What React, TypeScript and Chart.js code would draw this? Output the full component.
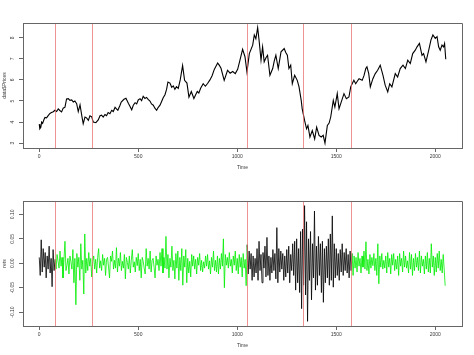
import React, { useEffect, useRef } from "react";
import { Chart, registerables } from "chart.js";

Chart.register(...registerables);

// ---- data ----
const priceTime = [
  0, 3, 8, 12, 17, 24, 29, 37, 46, 54, 62, 71, 79, 88, 96, 104, 113, 121, 130, 138,
  147, 155, 164, 172, 180, 189, 197, 206, 214, 222, 231, 239, 248, 256, 265, 273, 286, 298, 307, 315,
  323, 332, 340, 348, 357, 366, 374, 383, 391, 397, 408, 414, 428, 438, 450, 458, 467, 475, 484, 492, 500, 509, 517, 525, 534, 542, 550, 559, 567, 576, 584, 593,
  601, 610, 618, 626, 635, 643, 650, 660, 669, 677, 685, 693, 702, 712, 724, 734, 746, 756, 768, 781, 790, 798, 806, 815, 828, 839, 850, 862,
  873, 884, 901, 909, 918, 934, 951, 964, 977, 990, 1002, 1014, 1027, 1039, 1049, 1061, 1078, 1086, 1094, 1103, 1111, 1120, 1128, 1136, 1145, 1153,
  1165, 1179, 1187, 1195, 1207, 1221, 1237, 1245, 1253, 1261, 1270, 1278, 1290, 1303, 1312, 1323, 1328, 1340, 1350, 1357, 1367, 1379, 1391,
  1401, 1413, 1424, 1434, 1443, 1455, 1464, 1472, 1485, 1493, 1505, 1514, 1525, 1539, 1551, 1564, 1573, 1589, 1598, 1607, 1615, 1631, 1640,
  1649, 1655, 1664, 1672, 1685, 1697, 1709, 1722, 1736, 1747, 1760, 1770, 1781, 1798, 1810, 1823, 1837, 1849, 1861, 1874,
  1886, 1899, 1908, 1920, 1933, 1941, 1953, 1967, 1978, 1988, 2000, 2009, 2017, 2025, 2034, 2042, 2047, 2053,
];
const priceValue = [
  3.90, 3.68, 3.75, 4.00, 3.94, 4.12, 4.22, 4.20, 4.32, 4.41, 4.45, 4.49, 4.56, 4.50, 4.63, 4.55, 4.48, 4.66, 4.71, 5.10,
  5.11, 5.03, 5.05, 4.95, 5.00, 4.87, 4.50, 4.82, 4.35, 3.92, 4.24, 4.20, 4.08, 4.30, 4.25, 4.00, 3.97, 4.10, 4.30, 4.33,
  4.24, 4.36, 4.30, 4.45, 4.40, 4.56, 4.50, 4.70, 4.62, 4.56, 4.80, 4.95, 5.08, 5.13, 4.89, 4.75, 4.58, 4.80, 4.92, 4.86, 5.05, 5.11, 5.02, 5.22, 5.12, 5.17, 5.08, 5.00, 4.86, 4.80, 4.66, 4.56,
  4.70, 4.80, 4.98, 5.15, 5.30, 5.55, 5.90, 5.85, 5.65, 5.72, 5.55, 5.68, 5.60, 6.00, 6.68, 5.98, 5.85, 5.18, 5.45, 5.12, 5.30, 5.45, 5.38, 5.60, 5.82, 5.70, 5.83, 6.00,
  6.20, 6.50, 6.80, 6.70, 6.55, 5.98, 6.46, 6.32, 6.40, 6.30, 6.50, 6.95, 7.45, 7.10, 6.38, 7.25, 7.65, 8.13, 7.95, 8.48, 7.81, 6.94, 7.57, 6.86, 7.05, 7.17,
  6.22, 6.54, 6.90, 7.17, 6.54, 7.33, 7.49, 7.30, 7.17, 6.54, 6.70, 5.82, 6.22, 5.98, 5.67, 5.03, 4.63, 4.08, 3.68, 3.84, 3.29, 3.60, 3.20,
  3.76, 3.37, 3.29, 3.37, 3.00, 3.84, 3.95, 4.24, 5.03, 4.71, 5.35, 4.63, 4.95, 5.35, 5.11, 5.19, 5.67, 5.98, 5.82, 5.95, 6.06, 5.98, 6.20,
  6.54, 6.62, 6.30, 5.67, 6.06, 6.30, 6.46, 6.70, 6.22, 5.75, 5.43, 5.82, 5.67, 6.30, 6.14, 6.54, 6.70, 6.54, 6.94, 6.78,
  7.25, 7.41, 7.57, 7.73, 7.17, 7.25, 6.86, 7.41, 7.89, 8.13, 7.97, 8.05, 7.57, 7.41, 7.65, 7.57, 7.73, 6.98,
];

const returnStep = 5; // one value every 5 time units, starting at 0
const returnValue = [
  0.012, -0.025, 0.048, -0.018, 0.030, -0.008, 0.022, -0.030, 0.015, -0.012,
  0.035, -0.020, 0.010, -0.048, 0.028, -0.015, 0.008, -0.012, 0.018, 0.004,
  -0.010, 0.025, -0.006, 0.012, -0.030, 0.008, 0.045, -0.015, -0.004, 0.010,
  -0.022, 0.015, 0.003, -0.012, 0.028, -0.040, 0.010, -0.085, 0.020, -0.008,
  0.012, -0.035, 0.040, -0.012, 0.006, -0.063, 0.060, -0.020, 0.010, -0.015,
  0.022, -0.006, 0.010, -0.028, 0.004, 0.015, -0.012, 0.008, -0.020, 0.012,
  0.030, -0.010, 0.005, -0.015, 0.018, -0.004, 0.010, -0.025, 0.008, 0.012,
  -0.008, -0.030, 0.015, 0.004, 0.025, -0.012, 0.006, -0.010, 0.032, -0.018,
  0.010, -0.006, 0.022, -0.015, 0.004, -0.010, 0.018, -0.032, 0.012, 0.002,
  -0.012, 0.015, -0.020, 0.006, 0.028, -0.008, 0.003, -0.018, 0.012, -0.005,
  0.020, -0.015, 0.008, -0.030, 0.012, 0.004, -0.010, -0.022, 0.030, -0.006,
  0.010, -0.012, 0.025, -0.018, 0.006, 0.010, -0.008, -0.030, 0.015, -0.004,
  0.008, -0.015, 0.022, -0.006, 0.030, -0.020, 0.012, -0.010, 0.055, -0.012,
  0.018, -0.030, 0.010, -0.008, 0.035, -0.015, 0.006, -0.032, 0.020, -0.010,
  0.025, -0.035, 0.012, -0.015, 0.030, -0.045, 0.015, -0.008, 0.028, -0.040,
  0.010, -0.020, 0.004, -0.028, 0.018, -0.006, 0.015, -0.012, 0.008, -0.022,
  0.012, -0.004, 0.020, -0.015, 0.006, -0.018, 0.003, -0.010, 0.015, -0.006,
  0.018, -0.012, 0.005, -0.022, 0.012, -0.008, 0.025, -0.015, 0.006, -0.018,
  0.015, -0.022, 0.010, -0.012, 0.020, -0.006, 0.050, -0.050, 0.018, -0.004,
  0.012, -0.010, 0.022, -0.006, 0.008, -0.020, 0.015, -0.004, 0.025, -0.015,
  0.010, -0.022, 0.018, -0.008, 0.012, -0.028, 0.020, -0.010, 0.008, -0.046,
  0.038, -0.022, 0.025, -0.012, 0.020, -0.035, 0.015, -0.028, 0.010, -0.020,
  0.030, -0.035, 0.045, -0.015, 0.018, -0.040, 0.022, -0.010, 0.035, -0.028,
  0.053, -0.025, 0.015, -0.035, 0.012, -0.020, 0.028, -0.015, 0.020, -0.032,
  0.073, -0.040, 0.030, -0.018, 0.025, -0.012, 0.020, -0.035, 0.015, -0.028,
  0.028, -0.020, 0.035, -0.040, 0.018, -0.015, 0.040, -0.025, 0.045, -0.055,
  0.050, -0.040, 0.030, -0.060, 0.065, -0.093, 0.070, -0.045, 0.118, -0.065,
  0.085, -0.119, 0.050, -0.035, 0.065, -0.075, 0.040, -0.030, 0.107, -0.055,
  0.035, -0.045, 0.055, -0.025, 0.040, -0.060, 0.045, -0.080, 0.030, -0.040,
  0.035, -0.030, 0.050, -0.045, 0.060, -0.035, 0.097, -0.049, 0.040, -0.030,
  0.030, -0.025, 0.020, -0.035, 0.028, -0.018, 0.040, -0.025, 0.022, -0.015,
  0.030, -0.020, 0.018, -0.030, 0.025, -0.015, 0.020, -0.025, 0.015, -0.010,
  0.012, -0.018, 0.022, -0.006, 0.010, -0.020, 0.015, -0.008, 0.025, -0.012,
  0.044, -0.015, 0.008, -0.022, 0.018, -0.010, 0.012, -0.005, 0.020, -0.015,
  0.010, -0.025, 0.040, -0.042, 0.015, -0.008, 0.020, -0.012, 0.006, -0.010,
  0.015, -0.020, 0.022, -0.008, 0.010, -0.022, 0.018, -0.004, 0.020, -0.015,
  0.008, -0.012, 0.015, -0.025, 0.020, -0.006, 0.010, -0.018, 0.025, -0.008,
  0.015, -0.010, 0.005, -0.020, 0.022, -0.012, 0.018, -0.025, 0.010, -0.015,
  0.020, -0.008, 0.012, -0.015, 0.025, -0.020, 0.015, -0.006, 0.008, -0.022,
  0.015, -0.012, 0.022, -0.018, 0.010, -0.020, 0.040, -0.008, 0.015, -0.025,
  0.012, -0.018, 0.020, -0.010, 0.025, -0.015, 0.008, -0.020, 0.018, -0.012,
  -0.046,
];

const breakTimes = [79, 266, 1050, 1333, 1576];
const regimeStart = [0, 79, 1050, 1576];
const regimeColor = ["#000000", "#00ee00", "#000000", "#00ee00"];

const xTicks = [0, 500, 1000, 1500, 2000];
const priceTicks = [3, 4, 5, 6, 7, 8];
const returnTicks = [-0.1, -0.05, 0, 0.05, 0.1];

const xRange = [-82, 2135];
const priceRange = [2.77, 8.70];
const returnRange = [-0.1285, 0.1275];

const priceLabel = "data$Prices";
const returnLabel = "rets";
const timeLabel = "Time";

// ---- helpers ----
const FONT = "'Liberation Sans', Arial, sans-serif";
const AXIS = "#666666";
const TEXT = "#3a3a3a";

function colorAt(t: number) {
  let c = regimeColor[0];
  for (let i = 0; i < regimeStart.length; i++) if (t >= regimeStart[i]) c = regimeColor[i];
  return c;
}

const framePlugin = {
  id: "frameAndBreaks",
  afterDatasetsDraw(chart: any) {
    const { ctx, chartArea: a, scales } = chart;
    const x = scales.x;
    const top = Math.round(a.top) + 0.5;
    const bottom = Math.round(a.bottom) + 0.5;
    const left = Math.round(a.left) + 0.5;
    const right = Math.round(a.right) + 0.5;
    ctx.save();
    ctx.lineWidth = 1;
    ctx.strokeStyle = "rgba(232,100,100,0.7)";
    for (const t of breakTimes) {
      const px = Math.round(x.getPixelForValue(t)) + 0.5;
      ctx.beginPath();
      ctx.moveTo(px, top);
      ctx.lineTo(px, bottom);
      ctx.stroke();
    }
    ctx.strokeStyle = AXIS;
    ctx.beginPath();
    ctx.rect(left, top, right - left, bottom - top);
    ctx.stroke();
    ctx.restore();
  },
};

function makeConfig(
  data: { x: number; y: number }[],
  yRange: number[],
  yTicks: number[],
  yLabel: string,
  yFmt: (v: number) => string,
  yPad: number,
  colored: boolean,
  width: number
): any {
  return {
    type: "line",
    data: {
      datasets: [
        {
          data,
          borderColor: "#000000",
          borderWidth: width,
          pointRadius: 0,
          tension: 0,
          segment: colored ? { borderColor: (c: any) => colorAt(c.p0.parsed.x) } : undefined,
        },
      ],
    },
    plugins: [framePlugin],
    options: {
      animation: false,
      responsive: false,
      events: [],
      layout: { padding: { top: 23, right: 12, left: 0, bottom: 0 } },
      plugins: { legend: { display: false }, tooltip: { enabled: false } },
      scales: {
        x: {
          type: "linear",
          min: xRange[0],
          max: xRange[1],
          afterBuildTicks: (s: any) => {
            s.ticks = xTicks.map((v) => ({ value: v }));
          },
          afterFit: (s: any) => {
            s.height = 29;
          },
          grid: { display: true, drawOnChartArea: false, drawTicks: true, tickLength: 4, color: AXIS },
          border: { display: true, color: AXIS },
          ticks: {
            autoSkip: false,
            maxRotation: 0,
            padding: 2,
            color: TEXT,
            font: { family: FONT, size: 5 },
            callback: (v: any) => String(v),
          },
          title: {
            display: true,
            text: timeLabel,
            color: TEXT,
            font: { family: FONT, size: 5 },
            padding: { top: 0, bottom: 6 },
          },
        },
        y: {
          type: "linear",
          min: yRange[0],
          max: yRange[1],
          afterBuildTicks: (s: any) => {
            s.ticks = yTicks.map((v) => ({ value: v }));
          },
          afterFit: (s: any) => {
            s.width = 23;
          },
          grid: { display: true, drawOnChartArea: false, drawTicks: true, tickLength: 4, color: AXIS },
          border: { display: true, color: AXIS },
          ticks: {
            autoSkip: false,
            minRotation: 90,
            maxRotation: 90,
            crossAlign: "center",
            padding: yPad,
            color: TEXT,
            font: { family: FONT, size: 5 },
            callback: (v: any) => yFmt(Number(v)),
          },
          title: {
            display: true,
            text: yLabel,
            color: TEXT,
            font: { family: FONT, size: 5 },
            padding: { top: 2, bottom: 0 },
          },
        },
      },
    },
  };
}

export default function App() {
  const topRef = useRef<HTMLCanvasElement | null>(null);
  const botRef = useRef<HTMLCanvasElement | null>(null);

  useEffect(() => {
    const priceData = priceTime.map((t, i) => ({ x: t, y: priceValue[i] }));
    const retData = returnValue.map((v, i) => ({ x: i * returnStep, y: v }));
    const c1 = new Chart(
      topRef.current as HTMLCanvasElement,
      makeConfig(priceData, priceRange, priceTicks, priceLabel, (v) => String(v), 4.5, false, 1.1)
    );
    const c2 = new Chart(
      botRef.current as HTMLCanvasElement,
      makeConfig(retData, returnRange, returnTicks, returnLabel, (v) => v.toFixed(2), 0.5, true, 0.8)
    );
    return () => {
      c1.destroy();
      c2.destroy();
    };
  }, []);

  return (
    <div style={{ position: "fixed", left: 0, top: 0, width: 474, height: 355, background: "#ffffff" }}>
      <canvas ref={topRef} width={474} height={177} style={{ position: "absolute", left: 0, top: 0 }} />
      <canvas ref={botRef} width={474} height={177} style={{ position: "absolute", left: 0, top: 178 }} />
    </div>
  );
}
